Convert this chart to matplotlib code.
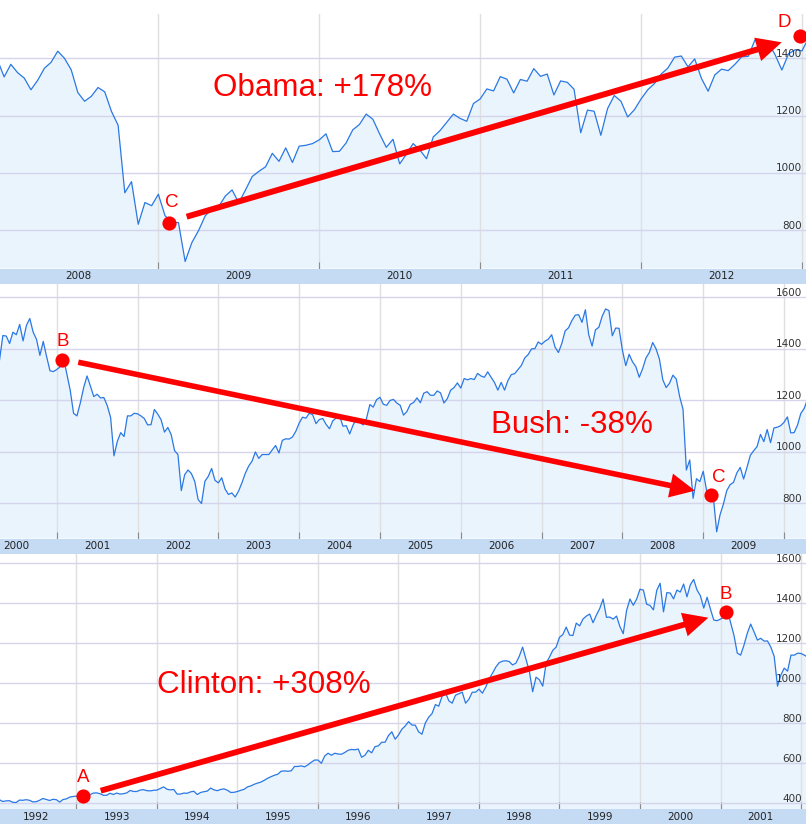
import numpy as np
import matplotlib
matplotlib.use("Agg")
import matplotlib.pyplot as plt
from matplotlib.patches import FancyArrowPatch, ArrowStyle

# === S&P 500 level, read twice a month (1st and 16th), Jan 1992 - Jan 2013 ===
#            Jan        Feb        Mar        Apr        May        Jun        Jul        Aug        Sep        Oct        Nov        Dec
spx_1992 = [417, 418, 409, 412, 413, 405, 404, 416, 415, 418, 415, 407, 408, 415, 424, 419, 414, 420, 418, 406, 419, 422, 431, 434]
spx_1993 = [436, 430, 439, 434, 443, 451, 452, 448, 440, 440, 450, 444, 451, 446, 448, 452, 464, 459, 459, 466, 468, 463, 462, 465]
spx_1994 = [466, 474, 482, 470, 467, 469, 446, 446, 451, 450, 457, 460, 444, 454, 458, 461, 476, 467, 463, 469, 472, 465, 454, 455]
spx_1995 = [459, 465, 470, 482, 487, 495, 501, 506, 515, 525, 533, 540, 545, 560, 562, 560, 562, 584, 584, 587, 582, 592, 605, 616]
spx_1996 = [616, 600, 636, 650, 640, 650, 646, 645, 654, 665, 669, 667, 671, 630, 640, 665, 652, 683, 687, 705, 705, 738, 757, 720]
spx_1997 = [741, 770, 786, 808, 791, 790, 757, 745, 801, 830, 848, 893, 885, 935, 954, 912, 900, 940, 947, 955, 900, 920, 955, 955]
spx_1998 = [970, 950, 980, 1020, 1049, 1080, 1102, 1110, 1112, 1108, 1091, 1100, 1134, 1180, 1121, 1060, 957, 1030, 1017, 985, 1099, 1130, 1164, 1180]
spx_1999 = [1229, 1243, 1280, 1240, 1238, 1300, 1286, 1320, 1335, 1345, 1302, 1340, 1373, 1420, 1329, 1330, 1320, 1335, 1283, 1247, 1363, 1420, 1389, 1420]
spx_2000 = [1469, 1465, 1394, 1388, 1366, 1464, 1499, 1356, 1452, 1450, 1421, 1465, 1455, 1495, 1431, 1491, 1518, 1465, 1437, 1375, 1429, 1370, 1315, 1312]
spx_2001 = [1320, 1330, 1366, 1302, 1240, 1150, 1140, 1190, 1250, 1295, 1256, 1215, 1224, 1210, 1211, 1180, 1134, 985, 1041, 1075, 1060, 1140, 1140, 1150]
spx_2002 = [1148, 1140, 1130, 1105, 1106, 1165, 1147, 1125, 1077, 1095, 1067, 1005, 990, 850, 912, 930, 916, 885, 815, 800, 886, 905, 936, 890]
spx_2003 = [880, 900, 856, 835, 841, 825, 848, 880, 917, 945, 964, 1000, 975, 990, 990, 990, 1008, 1025, 996, 1045, 1051, 1050, 1058, 1080]
spx_2004 = [1112, 1135, 1131, 1150, 1145, 1110, 1126, 1130, 1107, 1090, 1121, 1132, 1141, 1100, 1102, 1070, 1104, 1128, 1115, 1105, 1130, 1184, 1174, 1203]
spx_2005 = [1212, 1185, 1181, 1200, 1204, 1190, 1181, 1143, 1157, 1185, 1192, 1210, 1191, 1228, 1234, 1220, 1220, 1237, 1229, 1190, 1207, 1240, 1250, 1268]
spx_2006 = [1248, 1285, 1280, 1285, 1281, 1305, 1295, 1290, 1311, 1290, 1270, 1240, 1270, 1240, 1277, 1300, 1304, 1320, 1336, 1365, 1378, 1400, 1401, 1427]
spx_2007 = [1418, 1430, 1438, 1455, 1407, 1386, 1421, 1470, 1482, 1510, 1531, 1533, 1503, 1552, 1455, 1411, 1474, 1484, 1527, 1555, 1549, 1451, 1481, 1480]
spx_2008 = [1395, 1335, 1379, 1350, 1331, 1290, 1323, 1365, 1386, 1425, 1400, 1360, 1280, 1250, 1267, 1298, 1283, 1215, 1166, 930, 969, 820, 896, 885]
spx_2009 = [925, 850, 826, 826, 690, 756, 798, 850, 873, 882, 919, 940, 895, 940, 987, 1005, 1021, 1068, 1040, 1087, 1036, 1093, 1096, 1102]
spx_2010 = [1115, 1136, 1074, 1075, 1104, 1150, 1169, 1205, 1187, 1136, 1089, 1117, 1031, 1065, 1102, 1080, 1049, 1125, 1147, 1176, 1205, 1190, 1180, 1242]
spx_2011 = [1258, 1293, 1286, 1336, 1327, 1279, 1326, 1320, 1364, 1337, 1345, 1272, 1321, 1316, 1292, 1140, 1219, 1215, 1131, 1224, 1270, 1250, 1195, 1220]
spx_2012 = [1258, 1290, 1312, 1345, 1366, 1404, 1408, 1370, 1398, 1330, 1285, 1342, 1362, 1357, 1379, 1405, 1407, 1465, 1441, 1454, 1412, 1359, 1416, 1430]
spx_2013 = [1426, 1472]

spx = np.concatenate([spx_1992, spx_1993, spx_1994, spx_1995, spx_1996, spx_1997,
                      spx_1998, spx_1999, spx_2000, spx_2001, spx_2002, spx_2003,
                      spx_2004, spx_2005, spx_2006, spx_2007, spx_2008, spx_2009,
                      spx_2010, spx_2011, spx_2012, spx_2013]).astype(float)
dates = 1992 + np.arange(len(spx)) / 24.0

# === annotated points: (label, date, level, label offset px) ===
obama_pts = [("C", 2009.066, 826, (3, 16)), ("D", 2012.988, 1478, (-16, 9))]
bush_pts = [("B", 2001.069, 1357, (0, 14)), ("C", 2009.093, 833, (8, 13))]
clinton_pts = [("A", 1993.085, 437, (0, 14)), ("B", 2001.065, 1357, (0, 13))]

# === panel layout (pixel rows from the top of an 806x824 canvas) ===
panels = [
    dict(top=14, bottom=268.5, band=284, xlim=(2008.016, 2013.025), ylim=(665.5, 1554.8),
         yticks=[800, 1000, 1200, 1400], pts=obama_pts,
         arrow=((2009.176, 846.5), (2012.874, 1455.9)), shaft=4.3,
         title="Obama: +178%", title_at=(2009.338, 1268.3)),
    dict(top=284, bottom=538.5, band=554, xlim=(2000.298, 2010.272), ylim=(664, 1652),
         yticks=[800, 1000, 1200, 1400, 1600], pts=bush_pts,
         arrow=((2001.267, 1348.3), (2008.898, 849.7)), shaft=4.0,
         title="Bush: -38%", title_at=(2006.374, 1072.6)),
    dict(top=554, bottom=809, band=824, xlim=(1992.050, 2002.062), ylim=(371.5, 1645),
         yticks=[400, 600, 800, 1000, 1200, 1400, 1600], pts=clinton_pts,
         arrow=((1993.301, 462.9), (2000.849, 1326.8)), shaft=4.2,
         title="Clinton: +308%", title_at=(1993.997, 952)),
]

H = 824.0
RED = "#ff0000"
LINE = "#2a78e4"
FILL = "#eaf4fd"
BAND = "#c5daf3"

fig = plt.figure(figsize=(8.06, 8.24), dpi=100)

for p in panels:
    ax = fig.add_axes([0, 1 - p["bottom"] / H, 1, (p["bottom"] - p["top"]) / H])
    band = fig.add_axes([0, 1 - p["band"] / H, 1, (p["band"] - p["bottom"]) / H])

    ax.set_xlim(*p["xlim"])
    ax.set_ylim(*p["ylim"])
    ax.set_axisbelow("line")
    ax.fill_between(dates, spx, p["ylim"][0], color=FILL, lw=0)
    ax.plot(dates, spx, color=LINE, lw=0.9)

    years = np.arange(int(p["xlim"][0]), int(p["xlim"][1]) + 1)
    ax.set_xticks(years[1:])
    ax.set_yticks(p["yticks"])
    ax.xaxis.grid(True, color="#dfdfdf", lw=1)
    ax.yaxis.grid(True, color="#d4d4ec", lw=1)
    ax.tick_params(axis="x", direction="in", length=5, color="#8c8c8c",
                   labelbottom=False)
    ax.tick_params(axis="y", left=False, labelleft=False)
    for s in ax.spines.values():
        s.set_visible(False)

    for v in p["yticks"]:
        ax.annotate(str(v), xy=(1, v), xycoords=("axes fraction", "data"),
                    xytext=(-4, 1.5), textcoords="offset pixels",
                    ha="right", va="baseline", fontsize=7.5, color="#333333")

    # year band under each chart
    band.set_facecolor(BAND)
    band.set_xlim(*p["xlim"])
    band.set_ylim(0, 1)
    band.set_xticks([])
    band.set_yticks([])
    for s in band.spines.values():
        s.set_visible(False)
    for y in years:
        if p["xlim"][0] < y + 0.5 < p["xlim"][1]:
            band.text(y + 0.5, 0.5, str(y), ha="center", va="center",
                      fontsize=7.5, color="#222222")

    # red arrow, dots and labels
    tail, tip = p["arrow"]
    style = ArrowStyle.Simple(head_length=18, head_width=17.5, tail_width=p["shaft"])
    ax.add_patch(FancyArrowPatch(tail, tip, arrowstyle=style, mutation_scale=1,
                                 color=RED, lw=0, shrinkA=0, shrinkB=0,
                                 zorder=6, clip_on=False))
    for label, t, v, off in p["pts"]:
        ax.plot([t], [v], "o", color=RED, ms=10.2, mew=0, zorder=7, clip_on=False)
        ax.annotate(label, xy=(t, v), xytext=off, textcoords="offset pixels",
                    ha="center", va="baseline", fontsize=13.5, color=RED,
                    family="Liberation Sans", zorder=7)
    ax.text(p["title_at"][0], p["title_at"][1], p["title"], ha="left", va="baseline",
            fontsize=22.6, color=RED, family="Liberation Sans", zorder=7)

fig.savefig("out.png", dpi=100)
